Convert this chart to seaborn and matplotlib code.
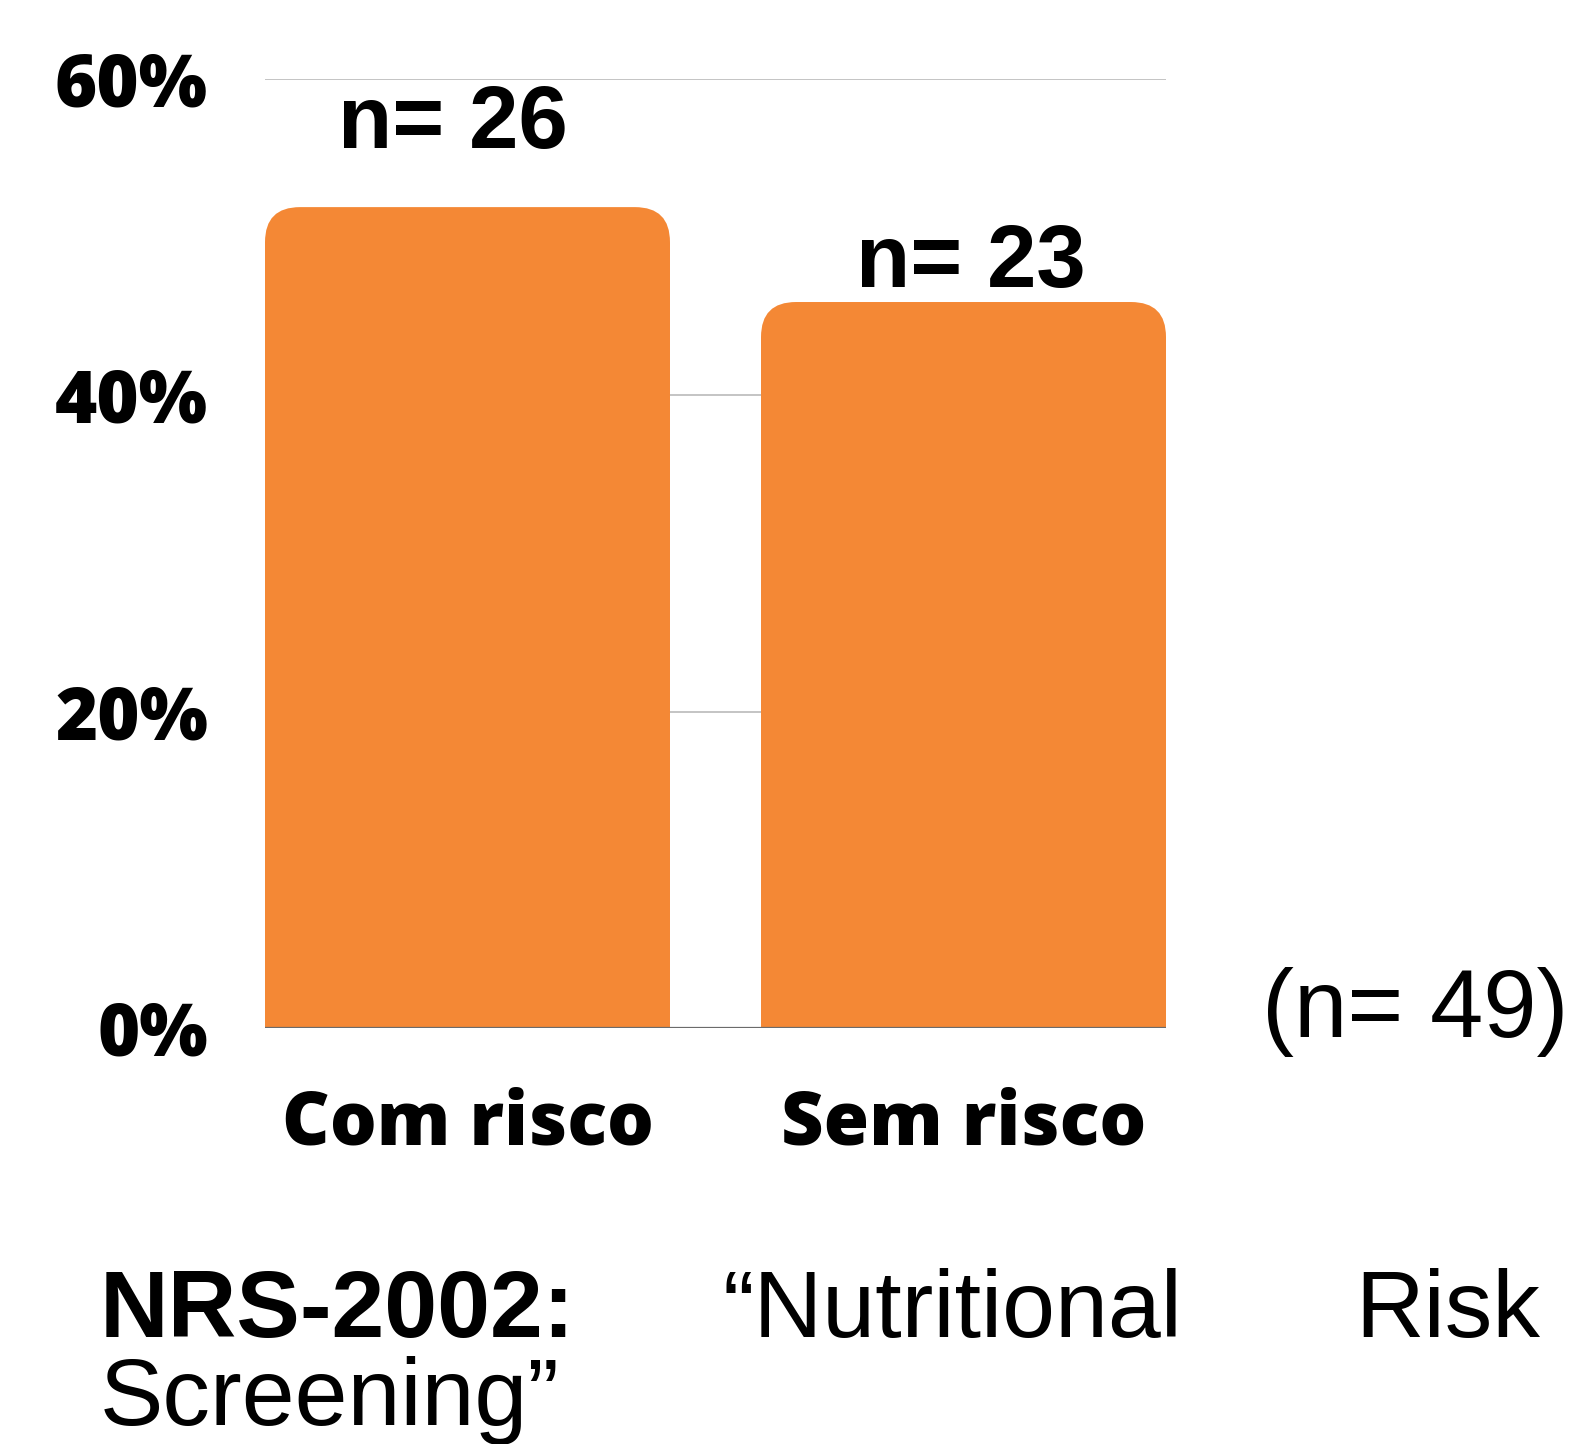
import numpy as np
import pandas as pd
import seaborn as sns
import matplotlib.pyplot as plt
from matplotlib.patches import FancyBboxPatch

# data
categories = ["Com risco", "Sem risco"]
percent = [51.9, 45.9]
n_labels = ["n= 26", "n= 23"]
total_label = "(n= 49)"
y_ticks = [0, 20, 40, 60]
y_tick_labels = ["0%", "20%", "40%", "60%"]

BAR_COLOR = "#F48835"
W, H = 1573, 1444

sns.set_theme(style="white")
plt.rcParams['font.family'] = ['Liberation Sans', 'DejaVu Sans']
plt.rcParams['text.color'] = 'black'

fig = plt.figure(figsize=(W / 100, H / 100), dpi=100)
ax = fig.add_axes([265 / W, 1 - 1028 / H, (1166 - 265) / W, (1028 - 79) / H])

df = pd.DataFrame({"cat": categories, "pct": percent})
bar_w = 0.8165
sns.barplot(data=df, x="cat", y="pct", color=BAR_COLOR, saturation=1,
            width=bar_w, ax=ax, zorder=2)

ax.set_xlim(-bar_w / 2, 1 + bar_w / 2)
ax.set_ylim(0, 60)

# rounded top corners
x_per_px = (1 + bar_w) / (1166 - 265)
y_per_px = 60 / (1028 - 79)
aspect = y_per_px / x_per_px
r = 35 * x_per_px
for p in list(ax.patches):
    x0, w, h = p.get_x(), p.get_width(), p.get_height()
    p.remove()
    extra = r * aspect
    fb = FancyBboxPatch((x0, -extra), w, h + extra,
                        boxstyle=f"round,pad=0,rounding_size={r}",
                        mutation_aspect=aspect, facecolor=BAR_COLOR,
                        edgecolor="none", zorder=2)
    ax.add_patch(fb)

for y in y_ticks[1:]:
    ax.axhline(y, color="#c4c4c4", lw=1.4, zorder=1)
ax.axhline(0, color="#6b6b6b", lw=1.6, zorder=3)

for s in ax.spines.values():
    s.set_visible(False)

ax.set_yticks(y_ticks)
ax.set_yticklabels(y_tick_labels, fontfamily="Open Sans", fontweight="heavy",
                   fontsize=52, color="black")
ax.tick_params(axis="y", length=0, pad=41)
ax.set_xticks([0, 1])
ax.set_xticklabels(categories, fontfamily="Open Sans", fontweight="heavy",
                   fontsize=53, color="black")
ax.tick_params(axis="x", length=0, pad=43)
ax.set_xlabel("")
ax.set_ylabel("")

# n labels above bars
label_offsets = [59, 15]
label_shift = [-15, 7]
for i, (lab, v) in enumerate(zip(n_labels, percent)):
    ax.annotate(lab, (i, v), xytext=(label_shift[i] * 0.72, label_offsets[i] * 0.72),
                textcoords="offset points", ha="center", va="baseline",
                fontsize=64, fontweight="bold", color="black",
                fontfamily="Liberation Sans")

fig.text(1262 / W, 1 - 1037 / H, total_label, fontsize=69, ha="left",
         va="baseline", fontfamily="Liberation Sans", color="black")

narrow = ["Liberation Sans Narrow", "Liberation Sans"]
fig.text(100 / W, 1 - 1337 / H, "NRS-2002:", fontsize=68.5, fontweight="bold",
         family=narrow, ha="left", va="baseline", color="black")
fig.text(723 / W, 1 - 1337 / H, "\u201cNutritional", fontsize=68.5,
         family=narrow, ha="left", va="baseline", color="black")
fig.text(1540 / W, 1 - 1337 / H, "Risk", fontsize=68.5,
         family=narrow, ha="right", va="baseline", color="black")
fig.text(100 / W, 1 - 1425 / H, "Screening\u201d", fontsize=68.5,
         family=narrow, ha="left", va="baseline", color="black")

fig.savefig("out.png", dpi=100, facecolor="white")
